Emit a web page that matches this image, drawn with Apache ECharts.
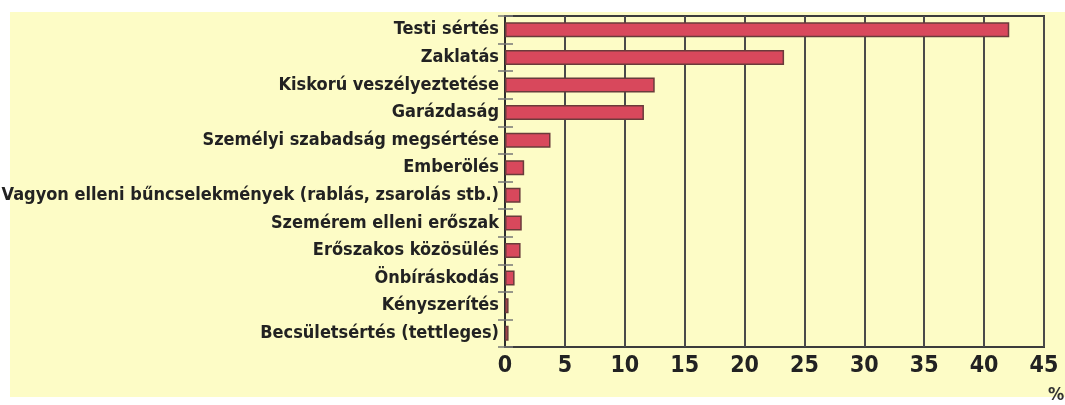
<!DOCTYPE html>
<html>
<head>
<meta charset="utf-8">
<script src="https://cdn.jsdelivr.net/npm/echarts@6/dist/echarts.min.js"></script>
<style>
  html, body { margin: 0; padding: 0; background: #ffffff; }
  #paper { position: absolute; left: 10px; top: 12px; width: 1055px; height: 385px; background: #fdfcc6; }
  #chartBox { position: absolute; left: 0; top: 0; width: 1065px; height: 405px; }
</style>
</head>
<body>
<div id="paper"></div>
<div id="chartBox"></div>
<script>
// kategóriák (felülről lefelé)
var categories = [
	'Testi sértés',
	'Zaklatás',
	'Kiskorú veszélyeztetése',
	'Garázdaság',
	'Személyi szabadság megsértése',
	'Emberölés',
	'Vagyon elleni bűncselekmények (rablás, zsarolás stb.)',
	'Szemérem elleni erőszak',
	'Erőszakos közösülés',
	'Önbíráskodás',
	'Kényszerítés',
	'Becsületsértés (tettleges)'
];
// arány, %
var shares = [42.1, 23.3, 12.5, 11.6, 3.8, 1.6, 1.3, 1.4, 1.3, 0.8, 0.3, 0.3];
var xTicks = [0, 5, 10, 15, 20, 25, 30, 35, 40, 45];

var narrow = '"DejaVu Sans Condensed", "Liberation Sans", sans-serif';

var myChart = echarts.init(document.getElementById('chartBox'));
var option = {
	animation : false,
	title : {
		text : '%',
		left : 1048,
		top : 386,
		padding : 0,
		textStyle : { fontFamily : narrow, fontSize : 18, fontWeight : 'bold', color : '#333' }
	},
	grid : {
		left : 505, right : 21, top : 16, bottom : 58,
		outerBoundsMode : 'none',
		containLabel : false,
		show : true, borderColor : '#3c3c3c', borderWidth : 2, backgroundColor : 'transparent'
	},
	xAxis : {
		type : 'value',
		min : xTicks[0],
		max : xTicks[xTicks.length - 1],
		interval : xTicks[1] - xTicks[0],
		axisLine : { show : false },
		axisTick : { show : false },
		axisLabel : { fontFamily : narrow, fontSize : 23, fontWeight : 'bold', color : '#222', margin : 8 },
		splitLine : { show : true, lineStyle : { color : '#4a4a4a', width : 2 } }
	},
	yAxis : [ {
		type : 'category',
		inverse : true,
		data : categories,
		axisLine : { show : true, lineStyle : { color : '#2e2e2e', width : 2 } },
		axisTick : { show : true, length : 7, lineStyle : { color : '#777', width : 1.5 } },
		axisLabel : { interval : 0, fontFamily : narrow, fontSize : 18, fontWeight : 'bold', color : '#222', margin : 6 }
	}, {
		type : 'category',
		inverse : true,
		position : 'left',
		data : categories,
		axisLine : { show : false },
		axisTick : { show : true, inside : true, length : 8, lineStyle : { color : '#777', width : 1.5 } },
		axisLabel : { show : false }
	} ],
	series : [ {
		type : 'bar',
		data : shares,
		barWidth : 15,
		itemStyle : { color : '#d8485c', borderColor : '#6a3b3b', borderWidth : 1.5 }
	} ]
};
myChart.setOption(option);
</script>
</body>
</html>
